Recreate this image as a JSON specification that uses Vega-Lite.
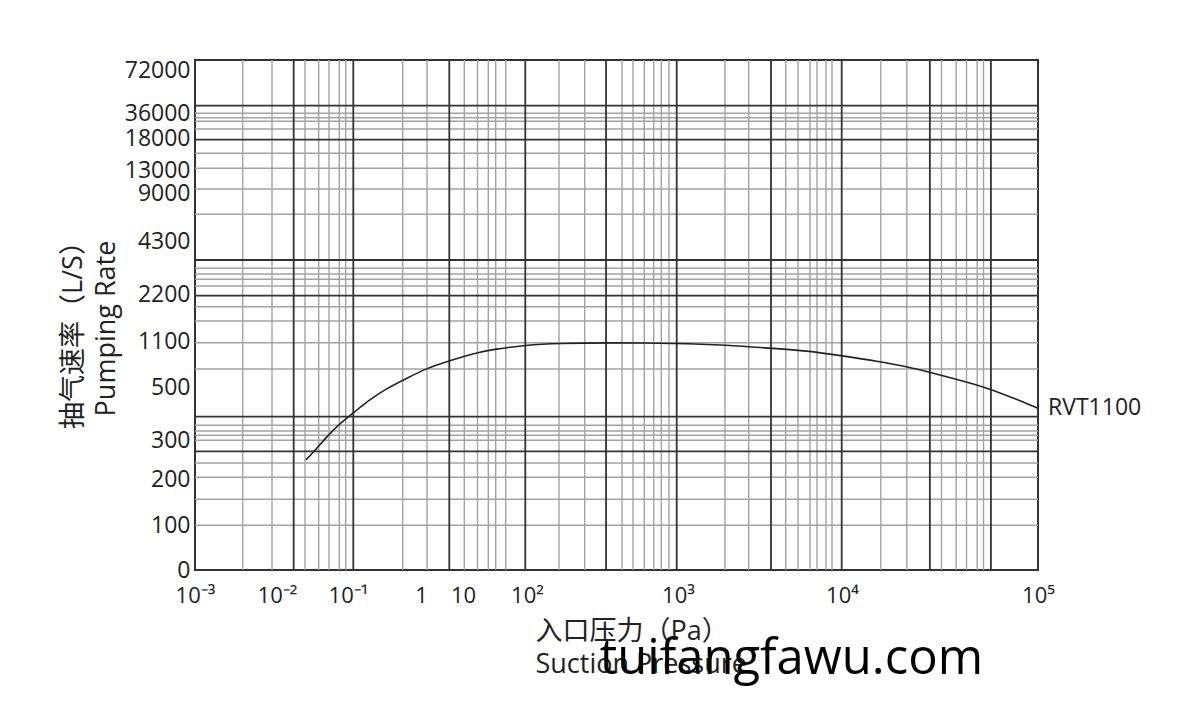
{
  "$schema": "https://vega.github.io/schema/vega-lite/v6.json",
  "autosize": "none",
  "width": 843,
  "height": 510,
  "padding": {"left": 195, "top": 60, "right": 162, "bottom": 136},
  "background": "white",
  "config": {
    "view": {"stroke": "#333333", "strokeWidth": 2},
    "font": "Open Sans, Noto Sans CJK SC, sans-serif"
  },
  "title": {
    "text": "tuifangfawu.com",
    "orient": "bottom",
    "anchor": "end",
    "frame": "group",
    "fontSize": 49,
    "fontWeight": "normal",
    "font": "Open Sans, sans-serif",
    "color": "#000000",
    "baseline": "alphabetic",
    "offset": 0,
    "dx": -55,
    "dy": -3
  },
  "datasets": {
    "vthin": [{"p":0.00382},{"p":0.00869},{"p":0.0248},{"p":0.03867},{"p":0.05401},{"p":0.07541},{"p":0.09281},{"p":0.5613},{"p":1.39},{"p":10.48},{"p":16.86},{"p":24.86},{"p":32.43},{"p":46.47},{"p":162.9},{"p":241.1},{"p":425.8},{"p":503.5},{"p":598.1},{"p":690.5},{"p":775.2},{"p":871.7},{"p":1934},{"p":2698},{"p":4536},{"p":5393},{"p":6381},{"p":7041},{"p":7989},{"p":8690},{"p":15770},{"p":21410},{"p":32170},{"p":38240},{"p":43180},{"p":48960},{"p":52720}],
    "vthick": [{"p":0.01718},{"p":0.1182},{"p":4.719},{"p":94.06},{"p":333.7},{"p":980.4},{"p":3690},{"p":9958},{"p":28070},{"p":57520}],
    "hthin": [{"q":99.3},{"q":155.9},{"q":204.4},{"q":241},{"q":299.2},{"q":317.7},{"q":334},{"q":355.5},{"q":734.8},{"q":1077.8},{"q":1568},{"q":1902.8},{"q":2517},{"q":2782.5},{"q":2992.5},{"q":3218},{"q":6914},{"q":9696},{"q":13266},{"q":15609},{"q":24480},{"q":30024},{"q":32616},{"q":35784}],
    "hthick": [{"q":271},{"q":387.9},{"q":2160},{"q":3547},{"q":17734},{"q":42112}],
    "curve": [
      {"p":0.0256,"q":249,"name":"RVT1100"},
      {"p":0.0324,"q":268,"name":"RVT1100"},
      {"p":0.0501,"q":312.5,"name":"RVT1100"},
      {"p":0.0771,"q":363,"name":"RVT1100"},
      {"p":0.118,"q":401,"name":"RVT1100"},
      {"p":0.18,"q":444.5,"name":"RVT1100"},
      {"p":0.339,"q":495,"name":"RVT1100"},
      {"p":0.637,"q":613,"name":"RVT1100"},
      {"p":1.367,"q":744,"name":"RVT1100"},
      {"p":4.09,"q":830,"name":"RVT1100"},
      {"p":11.4,"q":910,"name":"RVT1100"},
      {"p":18.4,"q":955,"name":"RVT1100"},
      {"p":29.7,"q":990,"name":"RVT1100"},
      {"p":94,"q":1048,"name":"RVT1100"},
      {"p":165,"q":1070,"name":"RVT1100"},
      {"p":337,"q":1078,"name":"RVT1100"},
      {"p":980,"q":1070,"name":"RVT1100"},
      {"p":1982,"q":1048,"name":"RVT1100"},
      {"p":3690,"q":1005,"name":"RVT1100"},
      {"p":6090,"q":973,"name":"RVT1100"},
      {"p":9960,"q":908,"name":"RVT1100"},
      {"p":15640,"q":830,"name":"RVT1100"},
      {"p":21400,"q":765,"name":"RVT1100"},
      {"p":28060,"q":692,"name":"RVT1100"},
      {"p":38550,"q":600,"name":"RVT1100"},
      {"p":57070,"q":495,"name":"RVT1100"},
      {"p":100000,"q":420,"name":"RVT1100"}
    ],
    "label": [{"p":100000,"q":420,"name":"RVT1100"}]
  },
  "layer": [
    {
      "data": {"name": "vthin"},
      "mark": {"type": "rule", "color": "#a3a3a3", "strokeWidth": 1.4},
      "encoding": {
        "x": {"field": "p", "type": "quantitative",
          "scale": {"type": "log", "domain": [0.001,0.01,0.1,1,10,100,1000,10000,100000], "range": [0,82,153,226,268,332,483,647,843], "nice": false},
          "axis": {
            "values": [0.001,0.01,0.1,1,10,100,1000,10000,100000],
            "labelExpr": "['10⁻³','10⁻²','10⁻¹','1','10','10²','10³','10⁴','10⁵'][round(log(datum.value)/LN10)+3]",
            "ticks": false, "domain": false, "grid": false,
            "labelFontSize": 22, "labelColor": "#222222", "labelPadding": 15, "labelFlush": false, "labelOverlap": false,
            "title": ["入口压力（Pa）", "Suction Pressure"],
            "titleFont": "Open Sans, Noto Sans CJK SC, sans-serif", "titleFontSize": 27, "titleFontWeight": "normal", "titleColor": "#222222",
            "titleLineHeight": 33, "titlePadding": 12, "titleX": 340, "titleAlign": "left"
          }
        }
      }
    },
    {
      "data": {"name": "hthin"},
      "mark": {"type": "rule", "color": "#a3a3a3", "strokeWidth": 1.4},
      "encoding": {
        "y": {"field": "q", "type": "quantitative",
          "scale": {"type": "linear", "domain": [0,100,200,300,500,1100,2200,4300,9000,13000,18000,36000,72000,100000], "range": [510,465,419,380,327,281,234,181,133,110,78,53,10,0], "nice": false, "zero": false},
          "axis": {
            "values": [0,100,200,300,500,1100,2200,4300,9000,13000,18000,36000,72000],
            "format": "d",
            "ticks": false, "domain": false, "grid": false,
            "labelFontSize": 23, "labelColor": "#222222", "labelPadding": 5, "labelFlush": false, "labelOverlap": false,
            "title": ["抽气速率（L/S）", "Pumping Rate"],
            "titleFont": "Open Sans, Noto Sans CJK SC, sans-serif", "titleFontSize": 27, "titleFontWeight": "normal", "titleColor": "#222222",
            "titleLineHeight": 33, "titlePadding": 4, "titleY": 268
          }
        }
      }
    },
    {
      "data": {"name": "vthick"},
      "mark": {"type": "rule", "color": "#333333", "strokeWidth": 1.8},
      "encoding": {
        "x": {"field": "p", "type": "quantitative",
          "scale": {"type": "log", "domain": [0.001,0.01,0.1,1,10,100,1000,10000,100000], "range": [0,82,153,226,268,332,483,647,843], "nice": false}}
      }
    },
    {
      "data": {"name": "hthick"},
      "mark": {"type": "rule", "color": "#333333", "strokeWidth": 1.8},
      "encoding": {
        "y": {"field": "q", "type": "quantitative",
          "scale": {"type": "linear", "domain": [0,100,200,300,500,1100,2200,4300,9000,13000,18000,36000,72000,100000], "range": [510,465,419,380,327,281,234,181,133,110,78,53,10,0], "nice": false, "zero": false}}
      }
    },
    {
      "data": {"name": "curve"},
      "mark": {"type": "line", "color": "#222222", "strokeWidth": 1.6, "interpolate": "basis"},
      "encoding": {
        "x": {"field": "p", "type": "quantitative",
          "scale": {"type": "log", "domain": [0.001,0.01,0.1,1,10,100,1000,10000,100000], "range": [0,82,153,226,268,332,483,647,843], "nice": false}},
        "y": {"field": "q", "type": "quantitative",
          "scale": {"type": "linear", "domain": [0,100,200,300,500,1100,2200,4300,9000,13000,18000,36000,72000,100000], "range": [510,465,419,380,327,281,234,181,133,110,78,53,10,0], "nice": false, "zero": false}}
      }
    },
    {
      "data": {"name": "label"},
      "mark": {"type": "text", "align": "left", "baseline": "middle", "dx": 10, "fontSize": 23, "color": "#222222", "font": "Open Sans, sans-serif"},
      "encoding": {
        "x": {"field": "p", "type": "quantitative",
          "scale": {"type": "log", "domain": [0.001,0.01,0.1,1,10,100,1000,10000,100000], "range": [0,82,153,226,268,332,483,647,843], "nice": false}},
        "y": {"field": "q", "type": "quantitative",
          "scale": {"type": "linear", "domain": [0,100,200,300,500,1100,2200,4300,9000,13000,18000,36000,72000,100000], "range": [510,465,419,380,327,281,234,181,133,110,78,53,10,0], "nice": false, "zero": false}},
        "text": {"field": "name"}
      }
    }
  ]
}
